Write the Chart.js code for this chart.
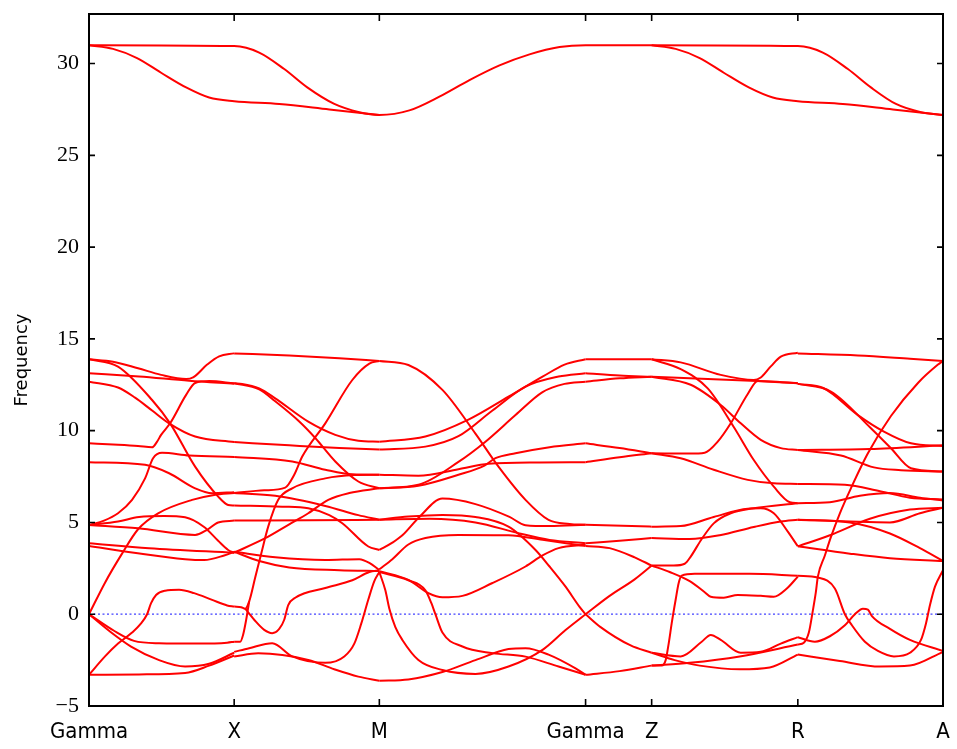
<!DOCTYPE html>
<html lang="en">
<head>
<meta charset="utf-8" />
<title>Phonon bands</title>
<script src="https://cdn.jsdelivr.net/npm/chart.js"></script>
<style>
  html, body { margin: 0; padding: 0; background: #fff; }
  #wrap { width: 957px; height: 749px; }
</style>
</head>
<body>
<div id="wrap"><canvas id="bands" width="957" height="749"></canvas></div>
<script>
// path distance of the high symmetry points
const kTicks = [0, 145, 290, 496, 562, 708, 853];
const kLabels = ['Gamma', 'X', 'M', 'Gamma', 'Z', 'R', 'A'];
const freqTicks = [-5, 0, 5, 10, 15, 20, 25, 30];

// branches as [k, frequency]
const topBands = [
  [[0,31.0],[145,30.95],[170,30.6],[195,29.7],[218,28.7],[245,27.8],[270,27.35],[290,27.2],[320,27.45],[350,28.2],[380,29.1],[410,29.9],[440,30.5],[470,30.9],[496,31.0],[562,31.0],[708,30.95],[733,30.6],[758,29.7],[781,28.7],[806,27.8],[831,27.35],[853,27.2]],
  [[0,31.0],[24,30.8],[48,30.3],[72,29.5],[97,28.7],[120,28.15],[145,27.95],[190,27.8],[240,27.5],[290,27.2]],
  [[562,31.0],[586,30.8],[610,30.3],[634,29.5],[659,28.7],[683,28.15],[708,27.95],[753,27.8],[803,27.5],[853,27.2]]
];

// Gamma -> X
const segGX = [
  [[0,13.89],[24,13.76],[49,13.4],[72,13.04],[97,12.81],[104,12.9],[118,13.6],[130,14.05],[145,14.21]],
  [[0,13.13],[50,12.95],[100,12.72],[145,12.56]],
  [[0,12.67],[29,12.35],[46,11.8],[63,11.1],[80,10.4],[106,9.68],[145,9.38]],
  [[0,13.89],[29,13.49],[63,11.67],[81,10.4],[106,8.04],[129,6.41],[139,5.95],[145,5.92]],
  [[0,9.31],[24,9.25],[49,9.17],[63,9.09],[68,9.4],[72,9.77],[81,10.4],[97,11.95],[106,12.6],[120,12.7],[145,12.58]],
  [[0,8.28],[56,8.14],[80,7.68],[106,6.86],[123,6.59],[145,6.65]],
  [[0,4.86],[15,5.1],[29,5.5],[43,6.23],[56,7.4],[64,8.5],[73,8.8],[100,8.65],[145,8.57]],
  [[0,4.86],[49,4.68],[106,4.32],[118,4.6],[129,5.0],[145,5.1]],
  [[0,4.86],[29,5.05],[50,5.3],[75,5.35],[96,5.28],[115,4.75],[129,4.0],[139,3.5],[145,3.35]],
  [[0,3.87],[60,3.6],[145,3.35]],
  [[0,3.72],[45,3.35],[96,3.0],[115,2.95],[135,3.2],[145,3.4]],
  [[0,0],[16,1.72],[33,3.3],[49,4.63],[69,5.5],[103,6.23],[125,6.5],[145,6.6]],
  [[0,-3.3],[16,-2.3],[29,-1.6],[43,-1.0],[52,-0.5],[58,0],[62,0.6],[67,1.05],[76,1.28],[90,1.33],[105,1.15],[123,0.78],[138,0.48],[145,0.42]],
  [[0,0],[25,-0.9],[45,-1.45],[70,-1.58],[110,-1.6],[138,-1.55],[145,-1.5]],
  [[0,0],[20,-0.9],[42,-1.76],[70,-2.5],[96,-2.85],[120,-2.7],[145,-2.1]],
  [[0,-3.3],[50,-3.28],[96,-3.2],[120,-2.8],[145,-2.25]]
];

// X -> M
const segXM = [
  [[145,14.21],[200,14.1],[250,13.95],[290,13.8]],
  [[145,12.58],[153,12.55],[170,12.3],[186,11.76],[219,10.49],[246,9.77],[269,9.45],[290,9.4]],
  [[145,12.58],[170,12.25],[186,11.6],[210,10.5],[226,9.6],[246,8.32],[269,7.23],[290,6.86]],
  [[145,9.38],[200,9.2],[250,9.05],[290,8.97]],
  [[145,8.57],[203,8.32],[236,7.87],[263,7.62],[290,7.6]],
  [[145,6.6],[175,6.75],[196,6.9],[205,7.6],[213,8.59],[236,10.4],[263,12.76],[280,13.65],[290,13.8]],
  [[145,5.92],[193,5.86],[219,5.77],[240,5.4],[253,4.96],[279,3.69],[290,3.5]],
  [[145,6.6],[186,6.45],[236,5.9],[269,5.4],[290,5.15]],
  [[145,5.1],[220,5.12],[290,5.15]],
  [[145,0.42],[152,0.38],[156,0.3],[160,0.7],[166,2.0],[172,3.3],[179,4.77],[189,6.23],[203,6.86],[236,7.4],[265,7.58],[290,7.6]],
  [[145,3.35],[176,4.14],[200,4.9],[219,5.5],[239,6.23],[260,6.6],[290,6.86]],
  [[145,3.4],[186,3.1],[236,2.95],[270,3.0],[280,2.8],[290,2.4]],
  [[145,3.4],[170,2.9],[200,2.55],[250,2.4],[290,2.35]],
  [[156,0.3],[165,-0.3],[175,-0.85],[183,-1.03],[190,-0.8],[195,-0.3],[199,0.5],[206,0.9],[236,1.43],[263,1.85],[280,2.3],[290,2.4]],
  [[145,-2.05],[160,-1.85],[183,-1.58],[203,-2.3],[236,-2.65],[255,-2.3],[265,-1.6],[272,-0.5],[279,0.8],[285,1.8],[290,2.3]],
  [[145,-2.3],[169,-2.13],[219,-2.49],[245,-3.0],[269,-3.4],[290,-3.62]],
  [[145,-1.5],[151,-1.5],[154,-1.1],[157,-0.3],[160,0.7]]
];

// M -> Gamma
const segMG = [
  [[290,13.8],[319,13.58],[353,12.22],[386,9.84],[409,8.04],[436,6.23],[459,5.14],[480,4.92],[496,4.87]],
  [[290,9.4],[336,9.68],[379,10.6],[419,11.85],[453,12.94],[475,13.6],[496,13.89]],
  [[290,8.97],[336,9.13],[369,9.7],[403,11.1],[436,12.4],[469,12.95],[496,13.13]],
  [[290,6.86],[329,7.05],[369,8.3],[396,9.4],[426,10.85],[453,12.1],[475,12.55],[496,12.67]],
  [[290,7.6],[329,7.55],[369,7.9],[399,8.2],[450,8.27],[496,8.28]],
  [[290,6.86],[329,7.0],[369,7.6],[395,8.1],[406,8.5],[426,8.77],[460,9.1],[496,9.31]],
  [[290,5.15],[319,5.32],[353,5.41],[386,5.3],[419,4.77],[446,3.5],[460,2.6],[476,1.5],[490,0.4],[496,0]],
  [[290,3.5],[303,3.9],[313,4.3],[330,5.3],[353,6.3],[386,6.0],[420,5.3],[436,4.85],[460,4.8],[496,4.87]],
  [[290,2.45],[303,3.0],[319,3.8],[336,4.15],[369,4.32],[419,4.3],[453,4.05],[496,3.72]],
  [[290,2.35],[319,1.87],[339,1.15],[353,0.92],[373,1.0],[403,1.7],[436,2.6],[453,3.2],[469,3.6],[496,3.78]],
  [[290,2.3],[319,1.85],[336,1.3],[342,0.6],[346,0],[353,-1.0],[373,-1.76],[403,-2.12],[436,-2.31],[469,-2.85],[496,-3.3]],
  [[290,2.3],[296,1.3],[300,0.3],[306,-0.7],[313,-1.4],[329,-2.49],[353,-3.04],[386,-3.25],[419,-2.85],[453,-1.94],[476,-0.86],[496,0]],
  [[290,-3.62],[319,-3.55],[353,-3.15],[386,-2.5],[419,-1.9],[436,-1.85],[459,-2.2],[486,-2.95],[496,-3.3]],
  [[290,5.15],[340,5.2],[386,5.0],[430,4.4],[460,4.05],[496,3.87]]
];

// Gamma -> Z
const segGZ = [
  [[496,13.89],[562,13.89]],
  [[496,13.13],[530,13.0],[562,12.94]],
  [[496,12.67],[530,12.85],[562,12.94]],
  [[496,9.31],[530,9.05],[562,8.77]],
  [[496,8.28],[530,8.55],[562,8.77]],
  [[496,4.87],[562,4.77]],
  [[496,3.87],[530,4.0],[562,4.15]],
  [[496,3.72],[520,3.6],[545,3.1],[562,2.65]],
  [[496,0],[520,1.0],[545,1.9],[562,2.65]],
  [[496,0],[511,-0.7],[541,-1.7],[562,-2.1]],
  [[496,-3.3],[530,-3.1],[562,-2.8]]
];

// Z -> R
const segZR = [
  [[562,13.89],[591,13.72],[631,13.04],[664,12.76],[671,12.9],[681,13.5],[691,14.03],[708,14.25]],
  [[562,12.94],[624,12.8],[667,12.7],[708,12.58]],
  [[562,12.94],[601,12.5],[631,11.4],[651,10.4],[671,9.5],[691,9.05],[708,8.95]],
  [[562,13.89],[591,13.35],[618,12.3],[644,10.2],[664,8.4],[684,6.95],[700,6.1],[708,6.05]],
  [[562,8.77],[600,8.75],[615,8.8],[628,9.4],[641,10.4],[658,12.0],[668,12.7],[690,12.65],[708,12.58]],
  [[562,8.77],[591,8.5],[624,7.87],[658,7.32],[684,7.13],[708,7.1]],
  [[562,4.77],[591,4.8],[624,5.3],[658,5.75],[671,5.77],[684,5.5],[698,4.5],[708,3.7]],
  [[562,2.65],[584,2.65],[595,2.75],[601,3.14],[612,4.1],[624,4.95],[641,5.5],[664,5.77],[708,6.05]],
  [[562,4.15],[600,4.1],[630,4.3],[664,4.75],[691,5.05],[708,5.15]],
  [[562,-2.1],[591,-2.3],[612,-1.5],[621,-1.13],[631,-1.4],[651,-2.1],[671,-2.05],[691,-1.6],[708,-1.25]],
  [[562,-2.8],[600,-2.65],[650,-2.3],[708,-1.65]],
  [[562,-2.1],[585,-2.5],[610,-2.8],[650,-3.0],[680,-2.9],[708,-2.2]],
  [[562,-2.8],[572,-2.8],[576,-2.5],[579,-1.6],[582,-0.5],[586,0.8],[589,1.7],[592,2.1],[605,2.2],[660,2.2],[708,2.1]],
  [[562,2.65],[580,2.3],[600,1.8],[615,1.2],[621,0.95],[634,0.9],[648,1.05],[671,1.0],[684,0.95],[697,1.4],[708,2.05]]
];

// R -> A
const segRA = [
  [[708,14.21],[768,14.1],[820,13.92],[853,13.8]],
  [[708,12.55],[734,12.31],[768,10.85],[794,9.95],[821,9.31],[853,9.16]],
  [[708,12.55],[741,12.13],[781,10.13],[801,9.04],[821,7.95],[853,7.77]],
  [[708,-1.65],[714,-1.55],[719,-1.0],[723,0.2],[726,1.2],[728,2.05],[735,3.2],[741,4.2],[750,5.5],[761,6.86],[778,8.77],[801,10.8],[828,12.6],[848,13.6],[853,13.8]],
  [[708,8.95],[780,9.0],[853,9.2]],
  [[708,8.95],[751,8.65],[784,8.0],[811,7.85],[853,7.77]],
  [[708,7.1],[755,7.05],[790,6.7],[820,6.35],[853,6.25]],
  [[708,6.05],[740,6.1],[770,6.45],[800,6.6],[830,6.35],[853,6.2]],
  [[708,5.15],[760,5.05],[800,5.0],[830,5.5],[853,5.8]],
  [[708,3.7],[740,4.3],[780,5.2],[820,5.7],[853,5.8]],
  [[708,5.15],[760,5.0],[800,4.4],[830,3.6],[853,2.9]],
  [[708,3.7],[760,3.3],[800,3.05],[853,2.9]],
  [[708,2.1],[728,2.0],[745,1.4],[755,0.0],[762,-0.6],[775,-1.5],[788,-2.0],[804,-2.3],[820,-2.1],[831,-1.4],[836,-0.5],[840,0.5],[845,1.5],[853,2.4]],
  [[708,-1.25],[725,-1.5],[740,-1.2],[755,-0.6],[765,0.0],[773,0.3],[778,0.25],[782,-0.1],[800,-0.8],[820,-1.4],[853,-2.0]],
  [[708,-2.2],[750,-2.55],[790,-2.85],[820,-2.8],[853,-2.05]]
];

const allBranches = [].concat(topBands, segGX, segXM, segMG, segGZ, segZR, segRA);

const datasets = allBranches.map(b => ({
  data: b.map(p => ({ x: p[0], y: p[1] })),
  borderColor: '#ff0000',
  borderWidth: 2,
  pointRadius: 0,
  fill: false,
  cubicInterpolationMode: 'monotone'
}));

// zero line
datasets.push({
  data: [{ x: kTicks[0], y: 0 }, { x: kTicks[kTicks.length - 1], y: 0 }],
  borderColor: '#4040ff',
  borderWidth: 1.2,
  borderDash: [2, 2.5],
  pointRadius: 0
});

// frame and inward ticks like the original plot
const framePlugin = {
  id: 'frame',
  afterDatasetsDraw(chart) {
    const { ctx, chartArea: a, scales } = chart;
    ctx.save();
    ctx.strokeStyle = '#000';
    ctx.lineWidth = 2;
    ctx.strokeRect(a.left, a.top, a.right - a.left, a.bottom - a.top);
    ctx.lineWidth = 1.6;
    ctx.beginPath();
    freqTicks.forEach(v => {
      const y = scales.y.getPixelForValue(v);
      ctx.moveTo(a.left, y); ctx.lineTo(a.left + 6, y);
      ctx.moveTo(a.right, y); ctx.lineTo(a.right - 6, y);
    });
    kTicks.forEach(v => {
      const x = scales.x.getPixelForValue(v);
      ctx.moveTo(x, a.bottom); ctx.lineTo(x, a.bottom - 7);
      ctx.moveTo(x, a.top); ctx.lineTo(x, a.top + 7);
    });
    ctx.stroke();
    ctx.restore();
  }
};

new Chart(document.getElementById('bands'), {
  type: 'line',
  data: { datasets: datasets },
  options: {
    responsive: false,
    animation: false,
    layout: { padding: { left: 0, right: 14, top: 14, bottom: 0 } },
    plugins: { legend: { display: false }, tooltip: { enabled: false } },
    scales: {
      x: {
        type: 'linear',
        min: 0,
        max: 853,
        grid: { display: false, drawTicks: false },
        border: { display: false },
        afterFit: s => { s.height = 43; s.paddingLeft = 0; s.paddingRight = 0; },
        afterBuildTicks: s => { s.ticks = kTicks.map(v => ({ value: v })); },
        ticks: {
          autoSkip: false,
          maxRotation: 0,
          padding: 13,
          color: '#000',
          font: { family: '"DejaVu Sans Condensed", "Liberation Sans Narrow", sans-serif', size: 22 },
          callback: (v, i) => kLabels[i]
        }
      },
      y: {
        min: -5,
        max: 32.7,
        grid: { display: false, drawTicks: false },
        border: { display: false },
        afterFit: s => { s.width = 89; s.paddingTop = 0; s.paddingBottom = 0; },
        afterBuildTicks: s => { s.ticks = freqTicks.map(v => ({ value: v })); },
        title: {
          display: true,
          text: 'Frequency',
          color: '#000',
          padding: { top: 12, bottom: 0 },
          font: { family: '"DejaVu Sans", sans-serif', size: 18 }
        },
        ticks: {
          padding: 10,
          color: '#000',
          font: { family: '"Liberation Serif", serif', size: 22 },
          callback: v => (v < 0 ? '\u2212' + Math.abs(v) : String(v))
        }
      }
    }
  },
  plugins: [framePlugin]
});
</script>
</body>
</html>
